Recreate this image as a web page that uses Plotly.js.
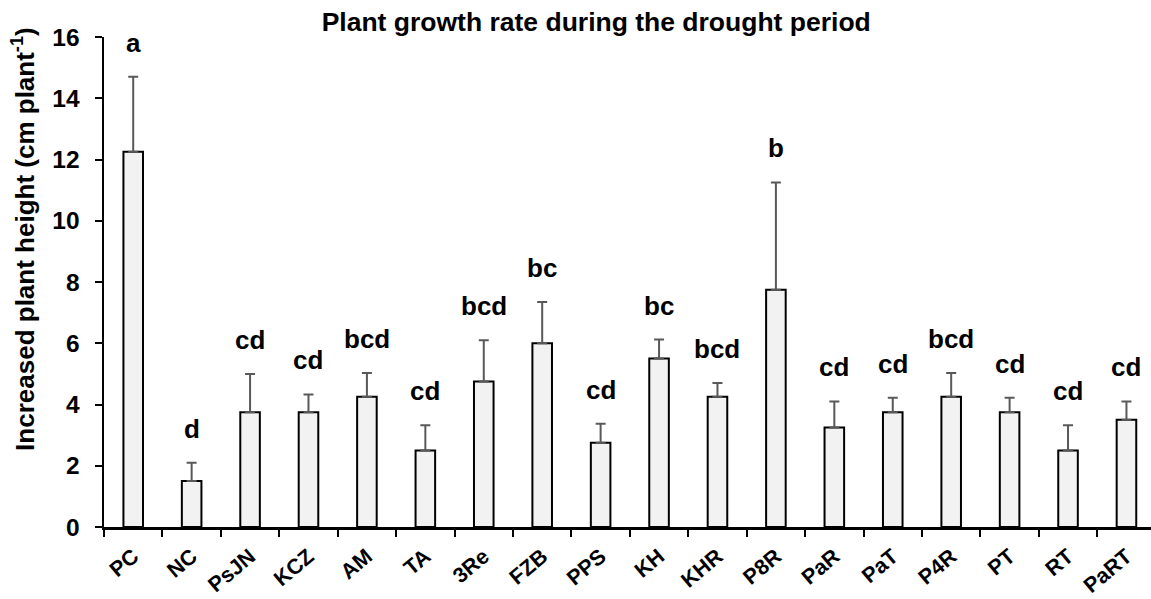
<!DOCTYPE html>
<html>
<head>
<meta charset="utf-8">
<script src="https://cdn.plot.ly/plotly-3.0.1.min.js"></script>
<style>
  html, body { margin: 0; padding: 0; background: #fff; overflow: hidden; }
  #chart { width: 1151px; height: 599px; }
</style>
</head>
<body>
<div id="chart"></div>
<script>
// ---- data ----
const categories = ["PC","NC","PsJN","KCZ","AM","TA","3Re","FZB","PPS","KH","KHR","P8R","PaR","PaT","P4R","PT","RT","PaRT"];
const heightMeans = [12.25, 1.5, 3.75, 3.75, 4.25, 2.5, 4.75, 6.0, 2.75, 5.5, 4.25, 7.75, 3.25, 3.75, 4.25, 3.75, 2.5, 3.5];
const heightErrors = [2.45, 0.6, 1.25, 0.58, 0.78, 0.82, 1.35, 1.35, 0.62, 0.62, 0.45, 3.5, 0.85, 0.47, 0.78, 0.47, 0.82, 0.6];
const letters = ["a","d","cd","cd","bcd","cd","bcd","bc","cd","bc","bcd","b","cd","cd","bcd","cd","cd","cd"];
const yTicks = [0, 2, 4, 6, 8, 10, 12, 14, 16];

const FONT = "Liberation Sans, Arial, Helvetica, sans-serif";

const trace = {
  type: "bar",
  x: categories,
  y: heightMeans,
  width: 0.335,
  marker: { color: "#f2f2f2", line: { color: "#000000", width: 2 } },
  error_y: {
    type: "data",
    symmetric: false,
    array: heightErrors,
    arrayminus: heightErrors.map(() => 0),
    color: "#595959",
    thickness: 2,
    width: 5
  },
  hoverinfo: "x+y"
};

const letterAnnotations = categories.map((c, i) => ({
  x: c,
  y: heightMeans[i] + heightErrors[i],
  xref: "x",
  yref: "y",
  text: letters[i],
  showarrow: false,
  yanchor: "bottom",
  yshift: 17,
  font: { family: FONT, size: 26, color: "#000", weight: 700 }
}));

const yTitle = {
  xref: "paper",
  yref: "paper",
  x: 0,
  xanchor: "center",
  xshift: -80,
  y: 0.588,
  yanchor: "middle",
  textangle: -90,
  showarrow: false,
  text: "Increased plant height (cm plant<sup>-1</sup>)",
  font: { family: FONT, size: 26, color: "#000", weight: 700 }
};

const layout = {
  width: 1151,
  height: 599,
  margin: { l: 104, r: 0, t: 37, b: 72 },
  paper_bgcolor: "#ffffff",
  plot_bgcolor: "#ffffff",
  showlegend: false,
  title: {
    text: "Plant growth rate during the drought period",
    font: { family: FONT, size: 26.5, color: "#000", weight: 700 },
    x: 0.518,
    xanchor: "center",
    xref: "container",
    y: 1 - 22 / 599,
    yref: "container",
    yanchor: "middle"
  },
  xaxis: {
    type: "category",
    range: [-0.5, 17.42],
    tickson: "boundaries",
    ticks: "outside",
    ticklen: 7,
    tickwidth: 2,
    tickcolor: "#000",
    tickangle: -40,
    ticklabelstandoff: 6,
    tickfont: { family: FONT, size: 21.5, color: "#000", weight: 700 },
    showline: true,
    linecolor: "#000",
    linewidth: 2.5,
    showgrid: false,
    zeroline: false,
    fixedrange: true
  },
  yaxis: {
    range: [0, 16],
    tickvals: yTicks,
    ticktext: yTicks.map(String),
    ticks: "outside",
    ticklen: 7,
    tickwidth: 2,
    tickcolor: "#000",
    ticklabelstandoff: 10,
    tickfont: { family: FONT, size: 24.5, color: "#000", weight: 700 },
    showline: true,
    linecolor: "#000",
    linewidth: 2.5,
    showgrid: false,
    zeroline: false,
    fixedrange: true
  },
  annotations: letterAnnotations.concat([yTitle])
};

Plotly.newPlot("chart", [trace], layout, { displayModeBar: false, staticPlot: true });
</script>
</body>
</html>
